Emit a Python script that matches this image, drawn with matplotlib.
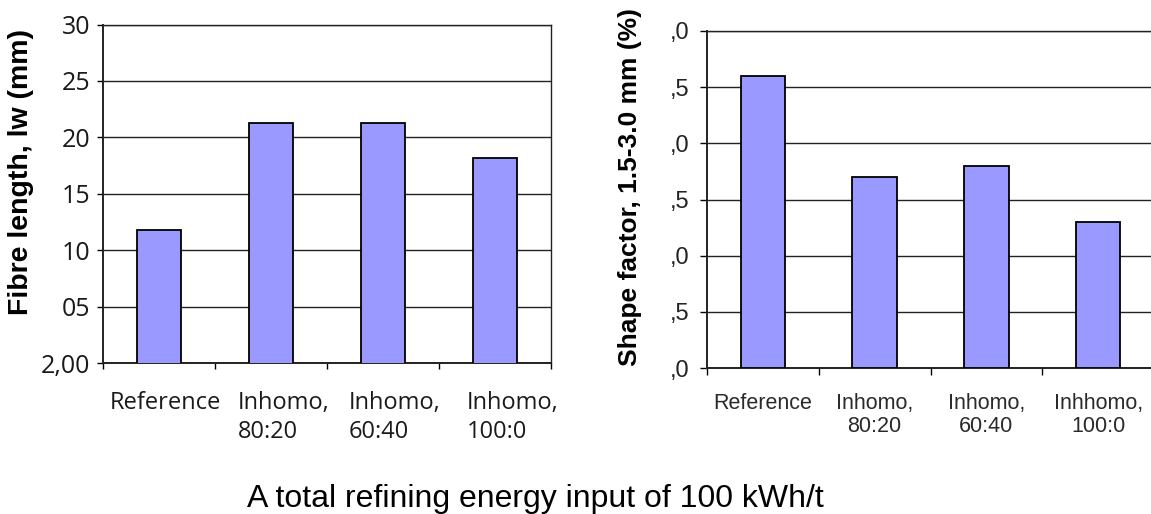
import matplotlib
matplotlib.use("Agg")
import matplotlib.pyplot as plt

# data
categories = ["Reference", "Inhomo,\n80:20", "Inhomo,\n60:40", "Inhomo,\n100:0"]
categories_right = ["Reference", "Inhomo,\n80:20", "Inhomo,\n60:40", "Inhhomo,\n100:0"]
fibre_length = [2.118, 2.213, 2.213, 2.182]
shape_factor = [2.60, 1.70, 1.80, 1.30]
left_ticks = [2.00, 2.05, 2.10, 2.15, 2.20, 2.25, 2.30]
left_ticklabels = ["2,00", "05", "10", "15", "20", "25", "30"]
right_ticks = [0.0, 0.5, 1.0, 1.5, 2.0, 2.5, 3.0]
right_ticklabels = [",0", ",5", ",0", ",5", ",0", ",5", ",0"]

BAR = "#9999ff"
W, H = 1151, 514

fig = plt.figure(figsize=(W / 100, H / 100), dpi=100)

# left chart
ax1 = fig.add_axes([103 / W, 1 - 363 / H, 448 / W, 338.4 / H])
x = range(len(categories))
ax1.bar(x, fibre_length, width=0.4, color=BAR, edgecolor="black", linewidth=1.3, zorder=3)
ax1.set_ylim(2.00, 2.30)
ax1.set_xlim(-0.5, 3.5)
ax1.set_yticks(left_ticks)
ax1.set_yticklabels(left_ticklabels, family="Open Sans", fontsize=18, color="#1a1a1a")
ax1.set_xticks([-0.5, 0.5, 1.5, 2.5, 3.5])
ax1.set_xticklabels([])
ax1.tick_params(axis="y", length=4, width=1, pad=5, direction="out")
ax1.tick_params(axis="x", length=4, width=1, direction="out")
ax1.grid(axis="y", color="#222222", linewidth=1.0, zorder=0)
for s in ax1.spines.values():
    s.set_linewidth(1.0)
    s.set_color("#222222")
ax1.spines["left"].set_linewidth(1.4)
ax1.spines["bottom"].set_linewidth(1.4)
label_dx = [-0.44, -0.295, -0.31, -0.25]
for i, lab in enumerate(categories):
    ax1.text(i + label_dx[i], -0.083, lab, transform=ax1.get_xaxis_transform(),
             ha="left", va="top", family="Open Sans", fontsize=17, color="#1a1a1a",
             linespacing=1.3)
fig.text(21 / W, 1 - 172 / H, "Fibre length, lw (mm)", rotation=90, ha="center",
         va="center", family="Liberation Sans", fontweight="bold", fontsize=20.5)

# right chart
ax2 = fig.add_axes([707 / W, 1 - 368 / H, 447 / W, 337 / H])
ax2.bar(x, shape_factor, width=0.4, color=BAR, edgecolor="black", linewidth=1.3, zorder=3)
ax2.set_ylim(0, 3.0)
ax2.set_xlim(-0.5, 3.5)
ax2.set_yticks(right_ticks)
ax2.set_yticklabels(right_ticklabels, family="Liberation Sans", fontsize=17, color="#222222")
ax2.set_xticks([-0.5, 0.5, 1.5, 2.5, 3.5])
ax2.set_xticklabels([])
ax2.tick_params(axis="y", length=5, width=1, pad=8, direction="out")
ax2.tick_params(axis="x", length=5, width=1, direction="out")
ax2.grid(axis="y", color="#222222", linewidth=1.0, zorder=0)
for s in ax2.spines.values():
    s.set_linewidth(1.0)
    s.set_color("#222222")
ax2.spines["left"].set_linewidth(1.4)
ax2.spines["bottom"].set_linewidth(1.4)
for i, lab in enumerate(categories_right):
    ax2.text(i, -0.074, lab, transform=ax2.get_xaxis_transform(),
             ha="center", va="top", family="Liberation Sans", fontsize=15.5,
             color="#2a2a2a", linespacing=1.15)
fig.text(630 / W, 1 - 187 / H, "Shape factor, 1.5-3.0 mm (%)", rotation=90, ha="center",
         va="center", family="Liberation Sans", fontweight="bold", fontsize=19)

fig.text(535 / W, 7 / H, "A total refining energy input of 100 kWh/t", ha="center",
         va="baseline", family="Liberation Sans", fontsize=23)

fig.savefig("out.png", dpi=100)
